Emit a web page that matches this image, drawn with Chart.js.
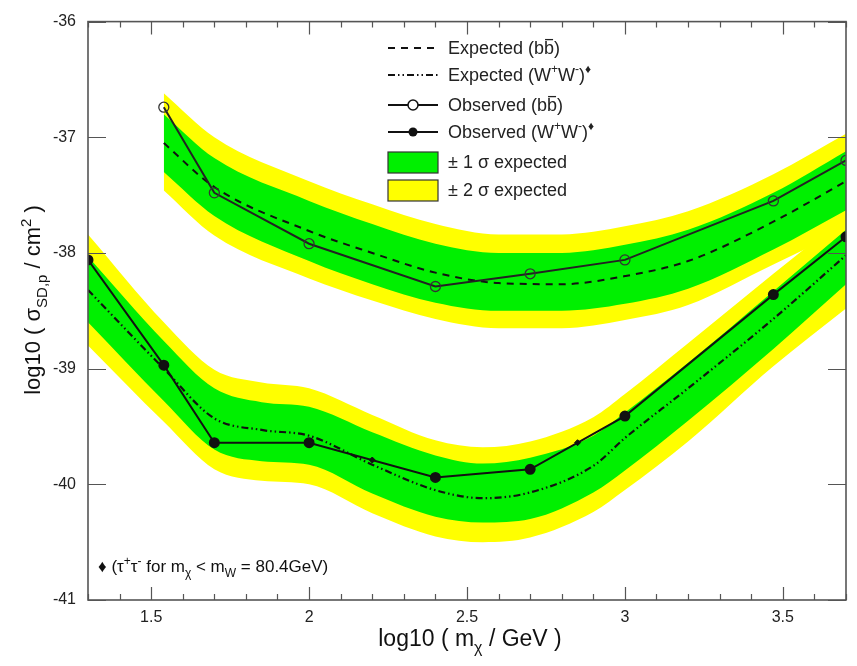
<!DOCTYPE html>
<html>
<head>
<meta charset="utf-8">
<title>SD limits</title>
<script src="https://cdn.jsdelivr.net/npm/chart.js@4.4.1/dist/chart.umd.min.js"></script>
<style>
  html, body { margin: 0; padding: 0; background: #fff; }
  #wrap { width: 857px; height: 666px; }
</style>
</head>
<body>
<div id="wrap"><canvas id="chart" width="857" height="666"></canvas></div>
<script>
// ========================================
// Data
// ========================================
const xTickLabels = [1.5, 2, 2.5, 3, 3.5];
const yTickLabels = [-41, -40, -39, -38, -37, -36];

// observed limits
const obsMassBB = [1.54, 1.7, 2.0, 2.4, 2.7, 3.0, 3.47, 3.7];
const obsLimitBB = [-36.74, -37.48, -37.92, -38.29, -38.18, -38.06, -37.55, -37.20];
const obsMassWW = [1.3, 1.54, 1.7, 2.0, 2.4, 2.7, 3.0, 3.47, 3.7];
const obsLimitWW = [-38.06, -38.97, -39.64, -39.64, -39.94, -39.87, -39.41, -38.36, -37.86];
const tauMarkMass = [2.2, 2.85];
const tauMarkLimit = [-39.79, -39.64];

// expected + bands, b bbar channel
const bandMassBB = [1.54, 1.7, 2.0, 2.2, 2.4, 2.6, 2.8, 3.0, 3.2, 3.47, 3.7];
const expBB      = [-37.05, -37.43, -37.81, -38.00, -38.17, -38.26, -38.27, -38.20, -38.07, -37.73, -37.38];
const green1BB   = [-36.80, -37.18, -37.55, -37.75, -37.92, -38.00, -38.00, -37.93, -37.80, -37.48, -37.12];
const green2BB   = [-37.30, -37.68, -38.07, -38.27, -38.43, -38.50, -38.50, -38.44, -38.31, -37.97, -37.63];
const yellow1BB  = [-36.62, -37.00, -37.38, -37.58, -37.75, -37.84, -37.84, -37.77, -37.64, -37.32, -36.97];
const yellow2BB  = [-37.46, -37.85, -38.22, -38.41, -38.57, -38.65, -38.65, -38.58, -38.45, -38.10, -37.80];

// expected + bands, W+W- channel
const bandMassWW = [1.3, 1.54, 1.7, 1.85, 2.0, 2.2, 2.4, 2.55, 2.7, 2.9, 3.0, 3.2, 3.47, 3.7];
const expWW      = [-38.32, -39.00, -39.43, -39.53, -39.58, -39.83, -40.05, -40.12, -40.07, -39.84, -39.60, -39.17, -38.57, -38.02];
const green1WW   = [-38.03, -38.76, -39.17, -39.29, -39.33, -39.55, -39.75, -39.82, -39.77, -39.58, -39.38, -38.95, -38.33, -37.80];
const green2WW   = [-38.60, -39.28, -39.70, -39.80, -39.83, -40.08, -40.28, -40.33, -40.30, -40.07, -39.88, -39.45, -38.83, -38.27];
const yellow1WW  = [-37.84, -38.60, -39.01, -39.12, -39.17, -39.40, -39.62, -39.68, -39.63, -39.42, -39.22, -38.78, -38.18, -37.68];
const yellow2WW  = [-38.80, -39.46, -39.87, -39.97, -40.00, -40.25, -40.45, -40.50, -40.46, -40.24, -40.05, -39.63, -38.98, -38.48];

// ========================================
// Styles
// ========================================
const FONT = '"Liberation Sans", Arial, Helvetica, sans-serif';
const GREEN = 'rgb(0, 240, 0)';
const YELLOW = 'rgb(255, 255, 0)';
const DASH_BB = [7, 6];
const DASH_WW = [7, 3, 1.5, 3, 1.5, 3];

function pts(xs, ys) {
    return xs.map((x, i) => ({ x: x, y: ys[i] }));
}

function bandEdge(xs, ys, color, fill) {
    return {
        data: pts(xs, ys),
        borderColor: 'rgba(0,0,0,0)',
        borderWidth: 0,
        backgroundColor: color,
        pointRadius: 0,
        fill: fill,
        cubicInterpolationMode: 'monotone'
    };
}

/**
 * Draw a text made of parts: [text, kind] with kind '', 'sub', 'sup' or 'bar'
 */
function drawRich(ctx, parts, x, y, size, align) {
    const small = Math.round(size * 0.68);
    const fontOf = p => ((p[1] === 'sub' || p[1] === 'sup') ? small : size) + 'px ' + FONT;
    let total = 0;
    parts.forEach(p => { ctx.font = fontOf(p); total += ctx.measureText(p[0]).width; });
    let cx = align === 'center' ? x - total / 2 : x;
    ctx.textAlign = 'left';
    ctx.textBaseline = 'alphabetic';
    parts.forEach(p => {
        ctx.font = fontOf(p);
        const w = ctx.measureText(p[0]).width;
        let dy = 0;
        if (p[1] === 'sub') dy = size * 0.32;
        if (p[1] === 'sup') dy = -size * 0.42;
        ctx.fillText(p[0], cx, y + dy);
        if (p[1] === 'bar') {
            ctx.save();
            ctx.lineWidth = 1.3;
            ctx.strokeStyle = ctx.fillStyle;
            ctx.beginPath();
            ctx.moveTo(cx + 1, y - size * 0.8);
            ctx.lineTo(cx + w - 1, y - size * 0.8);
            ctx.stroke();
            ctx.restore();
        }
        cx += w;
    });
}

// ========================================
// Frame, ticks, titles, legend
// ========================================
const decorations = {
    id: 'decorations',
    afterDraw(chart) {
        const ctx = chart.ctx;
        const area = chart.chartArea;
        const xs = chart.scales.x;
        const ys = chart.scales.y;
        ctx.save();

        // frame
        ctx.strokeStyle = '#555';
        ctx.lineWidth = 1.6;
        ctx.strokeRect(area.left, area.top, area.right - area.left, area.bottom - area.top);

        // x ticks, bottom and top (every 0.1)
        ctx.lineWidth = 1.2;
        ctx.beginPath();
        for (let i = 13; i <= 37; i++) {
            const px = Math.round(xs.getPixelForValue(i / 10)) + 0.5;
            const len = (i % 5 === 0) ? 13 : 6;
            ctx.moveTo(px, area.bottom);
            ctx.lineTo(px, area.bottom - len);
            ctx.moveTo(px, area.top);
            ctx.lineTo(px, area.top + len);
        }
        // y ticks, left and right
        yTickLabels.forEach(v => {
            const py = Math.round(ys.getPixelForValue(v)) + 0.5;
            ctx.moveTo(area.left, py);
            ctx.lineTo(area.left + 18, py);
            ctx.moveTo(area.right, py);
            ctx.lineTo(area.right - 18, py);
        });
        ctx.stroke();

        // axis titles
        ctx.fillStyle = '#111';
        drawRich(ctx, [['log10 ( m', ''], ['\u03c7', 'sub'], [' / GeV )', '']],
            (area.left + area.right) / 2 + 3, 646, 23, 'center');

        ctx.save();
        ctx.translate(40, 300);
        ctx.rotate(-Math.PI / 2);
        drawRich(ctx, [['log10 ( \u03c3', ''], ['SD,p', 'sub'], [' / cm', ''], ['2', 'sup'], [' )', '']],
            0, 0, 22, 'center');
        ctx.restore();

        // note at the bottom
        drawRich(ctx, [['\u2666 (\u03c4', ''], ['+', 'sup'], ['\u03c4', ''], ['-', 'sup'],
            [' for m', ''], ['\u03c7', 'sub'], [' < m', ''], ['W', 'sub'], [' = 80.4GeV)', '']],
            98, 572, 17, 'left');

        // legend
        const lx0 = 388, lx1 = 438, tx = 448;
        const rows = [48, 75, 105, 132, 162, 190];
        ctx.strokeStyle = '#111';
        ctx.fillStyle = '#111';
        ctx.lineWidth = 2;

        ctx.setLineDash(DASH_BB);
        ctx.beginPath(); ctx.moveTo(lx0, rows[0]); ctx.lineTo(lx1, rows[0]); ctx.stroke();
        ctx.setLineDash(DASH_WW);
        ctx.beginPath(); ctx.moveTo(lx0, rows[1]); ctx.lineTo(lx1, rows[1]); ctx.stroke();
        ctx.setLineDash([]);
        ctx.beginPath(); ctx.moveTo(lx0, rows[2]); ctx.lineTo(lx1, rows[2]); ctx.stroke();
        ctx.beginPath(); ctx.arc((lx0 + lx1) / 2, rows[2], 5, 0, Math.PI * 2);
        ctx.fillStyle = '#fff'; ctx.fill(); ctx.lineWidth = 1.5; ctx.stroke();
        ctx.lineWidth = 2;
        ctx.beginPath(); ctx.moveTo(lx0, rows[3]); ctx.lineTo(lx1, rows[3]); ctx.stroke();
        ctx.fillStyle = '#111';
        ctx.beginPath(); ctx.arc((lx0 + lx1) / 2, rows[3], 4.5, 0, Math.PI * 2); ctx.fill();

        ctx.lineWidth = 1.2;
        ctx.strokeStyle = '#333';
        ctx.fillStyle = GREEN;
        ctx.fillRect(lx0, rows[4] - 10, lx1 - lx0, 21);
        ctx.strokeRect(lx0, rows[4] - 10, lx1 - lx0, 21);
        ctx.fillStyle = YELLOW;
        ctx.fillRect(lx0, rows[5] - 10, lx1 - lx0, 21);
        ctx.strokeRect(lx0, rows[5] - 10, lx1 - lx0, 21);

        ctx.fillStyle = '#222';
        const fs = 18, off = 6;
        drawRich(ctx, [['Expected (b', ''], ['b', 'bar'], [')', '']], tx, rows[0] + off, fs, 'left');
        drawRich(ctx, [['Expected (W', ''], ['+', 'sup'], ['W', ''], ['-', 'sup'], [')', ''], ['\u2666', 'sup']], tx, rows[1] + off, fs, 'left');
        drawRich(ctx, [['Observed (b', ''], ['b', 'bar'], [')', '']], tx, rows[2] + off, fs, 'left');
        drawRich(ctx, [['Observed (W', ''], ['+', 'sup'], ['W', ''], ['-', 'sup'], [')', ''], ['\u2666', 'sup']], tx, rows[3] + off, fs, 'left');
        drawRich(ctx, [['\u00b1 1 \u03c3 expected', '']], tx, rows[4] + off, fs, 'left');
        drawRich(ctx, [['\u00b1 2 \u03c3 expected', '']], tx, rows[5] + off, fs, 'left');

        ctx.restore();
    }
};

// ========================================
// Chart
// ========================================
const datasets = [
    {
        data: pts(obsMassWW, obsLimitWW),
        borderColor: '#111', borderWidth: 2, tension: 0,
        pointRadius: 4.5, pointBackgroundColor: '#111', pointBorderColor: '#111'
    },
    {
        data: pts(obsMassBB, obsLimitBB),
        borderColor: '#222', borderWidth: 2, tension: 0,
        pointRadius: 5, pointBorderWidth: 1.3,
        pointBackgroundColor: 'rgba(0,0,0,0)', pointBorderColor: '#333'
    },
    {
        data: pts(tauMarkMass, tauMarkLimit),
        showLine: false, pointStyle: 'rectRot', pointRadius: 3,
        pointBackgroundColor: '#111', pointBorderColor: '#111'
    },
    {
        data: pts(bandMassWW, expWW),
        borderColor: '#111', borderWidth: 2.2, borderDash: DASH_WW,
        pointRadius: 0, cubicInterpolationMode: 'monotone'
    },
    {
        data: pts(bandMassBB, expBB),
        borderColor: '#111', borderWidth: 2, borderDash: DASH_BB,
        pointRadius: 0, cubicInterpolationMode: 'monotone'
    },
    bandEdge(bandMassWW, green1WW, GREEN, '+1'),
    bandEdge(bandMassWW, green2WW, GREEN, false),
    bandEdge(bandMassBB, green1BB, GREEN, '+1'),
    bandEdge(bandMassBB, green2BB, GREEN, false),
    bandEdge(bandMassWW, yellow1WW, YELLOW, '+1'),
    bandEdge(bandMassWW, yellow2WW, YELLOW, false),
    bandEdge(bandMassBB, yellow1BB, YELLOW, '+1'),
    bandEdge(bandMassBB, yellow2BB, YELLOW, false)
];

new Chart(document.getElementById('chart'), {
    type: 'line',
    data: { datasets: datasets },
    options: {
        responsive: false,
        animation: false,
        devicePixelRatio: 1,
        layout: { padding: { left: 0, top: 18, right: 11, bottom: 0 } },
        plugins: {
            legend: { display: false },
            tooltip: { enabled: false },
            filler: { propagate: false }
        },
        scales: {
            x: {
                type: 'linear', min: 1.3, max: 3.7,
                grid: { display: false, drawTicks: false },
                border: { display: false },
                ticks: {
                    padding: 8, color: '#222', maxRotation: 0,
                    font: { family: FONT, size: 16 },
                    callback: v => String(v)
                },
                afterBuildTicks: s => { s.ticks = xTickLabels.map(v => ({ value: v })); },
                afterFit: s => { s.height = 66; }
            },
            y: {
                type: 'linear', min: -41, max: -36,
                grid: { display: false, drawTicks: false },
                border: { display: false },
                ticks: {
                    padding: 12, color: '#222',
                    font: { family: FONT, size: 16 },
                    callback: v => String(v)
                },
                afterBuildTicks: s => { s.ticks = yTickLabels.map(v => ({ value: v })); },
                afterFit: s => { s.width = 88; }
            }
        }
    },
    plugins: [decorations]
});
</script>
</body>
</html>
